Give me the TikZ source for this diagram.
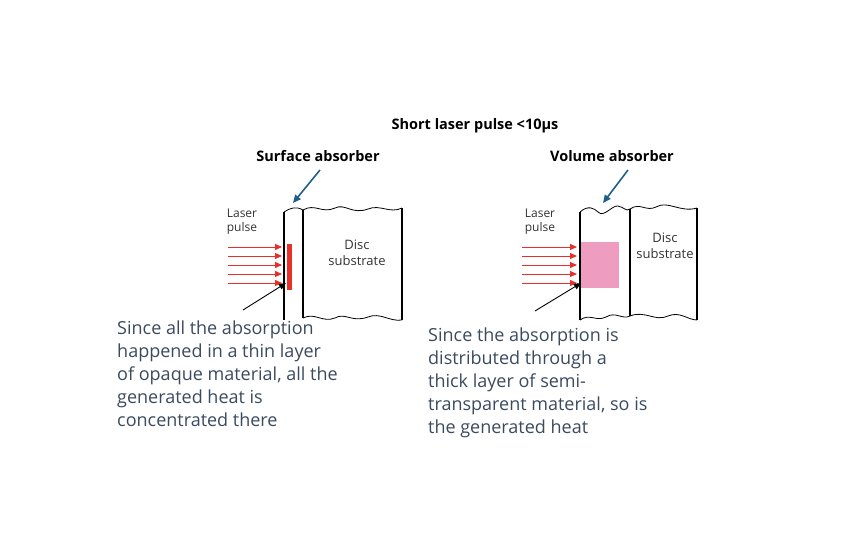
\documentclass[tikz,border=0pt]{standalone}
\usepackage{fontspec}
\setmainfont{Open Sans}
\usetikzlibrary{arrows.meta}
\definecolor{txt}{HTML}{3B4A5E}
\definecolor{lz}{HTML}{E8302A}
\definecolor{blu}{HTML}{1F5F8B}
\definecolor{pnk}{HTML}{EE9CC0}
\begin{document}
\begin{tikzpicture}[x=1pt,y=-1pt,
  wall/.style={line width=1.6pt},
  wave/.style={line width=0.8pt},
  las/.style={lz,line width=1pt,-{Triangle[length=7pt,width=6pt]}},
  poin/.style={black,line width=0.9pt,-{Triangle[length=7pt,width=6pt]}},
  bluea/.style={blu,line width=1.6pt,-{Triangle[length=8pt,width=7pt]}},
  lab/.style={font=\fontsize{12}{14}\selectfont,align=left,text=black!80},
  head/.style={font=\fontsize{14.5}{16}\selectfont\bfseries},
  body/.style={font=\fontsize{18}{23}\selectfont,align=left,text=txt,anchor=north west,inner sep=0}]
\useasboundingbox (0,0) rectangle (845,540);
\node[head] (title) at (475,126) {Short laser pulse <10µs};
% left
\node[head] (sa) at (318,156) {Surface absorber};
\fill[lz] (287,244) rectangle (292,290);
\draw[wave] (284,212) .. controls (290,208) and (296,206) .. (303,210);
\draw[wave] (303,210) .. controls (315,203) and (322,214) .. (335,208) .. controls (345,203) and (352,215) .. (368,209) .. controls (380,204) and (390,214) .. (402,208);
\draw[wave] (303,318) .. controls (315,312) and (322,323) .. (335,318) .. controls (345,312) and (352,323) .. (368,317) .. controls (380,312) and (390,322) .. (402,320);
\draw[wall] (284,212) -- (284,320);
\draw[wall] (303,210) -- (303,318);
\draw[wall] (402,208) -- (402,320);
\node[lab] (lp1) at (242,222) {Laser\\pulse};
\node[font=\fontsize{13}{16}\selectfont,align=center,text=black!80] (ds1) at (357,253) {Disc\\substrate};
\foreach \i in {0,...,4} {\coordinate (a\i) at (228,{247+9*\i}); \coordinate (b\i) at (282,{247+9*\i}); \draw[las] (a\i) -- (b\i);}
\coordinate (p1) at (243,310); \coordinate (q1) at (286,283);
\draw[poin] (p1) -- (q1);
\coordinate (u1) at (320,170); \coordinate (v1) at (293,203);
\draw[bluea] (u1) -- (v1);
\node[body] (t1) at (117,321) {Since all the absorption\\happened in a thin layer\\of opaque material, all the\\generated heat is\\concentrated there};
% right
\node[head] (va) at (612,156) {Volume absorber};
\fill[pnk] (581,242) rectangle (619,288);
\draw[wave] (580,212) .. controls (588,205) and (594,208) .. (598,212) .. controls (604,218) and (612,205) .. (618,206) .. controls (624,207) and (626,212) .. (630,209);
\draw[wave] (630,209) .. controls (640,202) and (646,212) .. (656,207) .. controls (668,200) and (680,213) .. (697,208);
\draw[wave] (580,320) .. controls (590,313) and (596,322) .. (606,317) .. controls (616,311) and (622,320) .. (630,316) .. controls (645,310) and (655,322) .. (668,316) .. controls (680,311) and (688,320) .. (697,320);
\draw[wall] (580,212) -- (580,320);
\draw[wall] (630,209) -- (630,316);
\draw[wall] (697,208) -- (697,320);
\node[lab] (lp2) at (540,222) {Laser\\pulse};
\node[font=\fontsize{13}{16}\selectfont,align=center,text=black!80] (ds2) at (665,246) {Disc\\substrate};
\foreach \i in {0,...,4} {\coordinate (c\i) at (522,{247+9*\i}); \coordinate (d\i) at (577,{247+9*\i}); \draw[las] (c\i) -- (d\i);}
\coordinate (p2) at (535,311); \coordinate (q2) at (581,283);
\draw[poin] (p2) -- (q2);
\coordinate (u2) at (628,170); \coordinate (v2) at (603,203);
\draw[bluea] (u2) -- (v2);
\node[body] (t2) at (428,328) {Since the absorption is\\distributed through a\\thick layer of semi-\\transparent material, so is\\the generated heat};
\end{tikzpicture}
\end{document}
